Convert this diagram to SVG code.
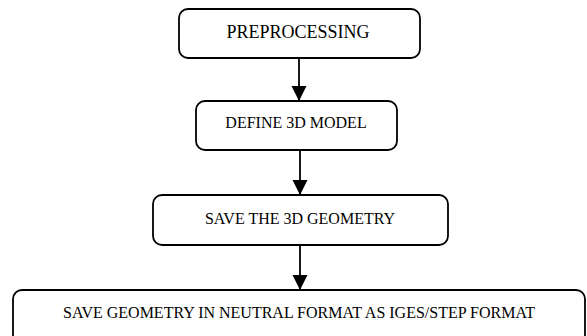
<svg xmlns="http://www.w3.org/2000/svg" width="587" height="336" viewBox="0 0 587 336">
<style>
.box{fill:#fff;stroke:#000;stroke-width:1.8}
.lbl{font-family:"Liberation Serif","Times New Roman",serif;fill:#000;text-anchor:middle}
.edge{stroke:#000;stroke-width:1.8;fill:none}
</style>
<defs>
<marker id="ah" markerUnits="userSpaceOnUse" markerWidth="16" markerHeight="16" viewBox="0 0 16 16" refX="15" refY="8" orient="auto">
<path d="M0,0.5 L15,8 L0,15.5 Z" fill="#000"/>
</marker>
</defs>
<rect width="587" height="336" fill="#fff"/>
<g id="connectors">
<line class="edge" x1="299" y1="58" x2="299" y2="101" marker-end="url(#ah)"/>
<line class="edge" x1="300" y1="150" x2="300" y2="195" marker-end="url(#ah)"/>
<line class="edge" x1="300" y1="245" x2="300" y2="290" marker-end="url(#ah)"/>
</g>
<g id="n1">
<rect class="box" x="179" y="9" width="241" height="49" rx="9"/>
<text class="lbl" x="298" y="38" font-size="18">PREPROCESSING</text>
</g>
<g id="n2">
<rect class="box" x="196" y="101" width="201" height="49" rx="9"/>
<text class="lbl" x="296" y="128" font-size="16">DEFINE 3D MODEL</text>
</g>
<g id="n3">
<rect class="box" x="153" y="195" width="295" height="50" rx="9"/>
<text class="lbl" x="300" y="224" font-size="16">SAVE THE 3D GEOMETRY</text>
</g>
<g id="n4">
<rect class="box" x="13" y="290" width="572" height="56" rx="9"/>
<text class="lbl" x="299" y="318" font-size="16">SAVE GEOMETRY IN NEUTRAL FORMAT AS IGES/STEP FORMAT</text>
</g>
</svg>
